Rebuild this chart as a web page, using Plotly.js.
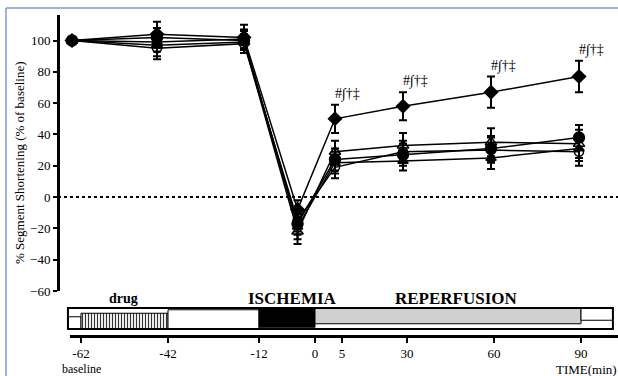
<!DOCTYPE html>
<html>
<head>
<meta charset="utf-8">
<script src="https://cdn.plot.ly/plotly-3.0.1.min.js"></script>
<style>html,body{margin:0;padding:0;background:#fff}#chart{width:618px;height:376px}</style>
</head>
<body>
<div id="chart"></div>
<script>
// ---- data ----
const sampleTimes = [-62, -42, -12, -2, 5, 30, 60, 90];   // min (ischemia sample at -2)
const tickTimes   = [-62, -42, -12, 0, 5, 30, 60, 90];
const tickLabels  = ['-62', '-42', '-12', '0', '5', '30', '60', '90'];

const diamondVals   = [100, 104, 102, -8, 50, 58, 67, 77];
const diamondErr    = [2, 8, 8, 6, 9, 9, 10, 10];
const circleVals    = [100, 102, 100, -17, 24, 27, 31, 38];
const circleErr     = [2, 6, 6, 7, 7, 7, 8, 8];
const triOpenVals   = [100, 97, 99, -22, 29, 33, 35, 34];
const triOpenErr    = [2, 7, 7, 8, 7, 8, 9, 9];
const circOpenVals  = [100, 95, 98, -15, 19, 29, 30, 29];
const circOpenErr   = [2, 7, 6, 7, 7, 7, 8, 9];
const triFillVals   = [100, 99, 101, -19, 22, 23, 25, 31];
const triFillErr    = [2, 6, 6, 8, 7, 6, 7, 8];

const sigLabel = '#∫†‡';
const sigTimes = [5, 30, 60, 90];

// protocol phases (min)
const phaseStart = [-65, -62, -42, -12, 0, 90];
const phaseEnd   = [-62, -42, -12, 0, 90, 101];
const phaseKind  = ['none', 'drug', 'none', 'ischemia', 'reperfusion', 'none'];

// ---- broken time scales (time -> axis units) ----
const topKnotT = [-62, -42, -12, 5, 30, 60, 90];
const topKnotU = [72, 157, 244, 335, 403, 491, 579];
const botKnotT = [-62, -42, -12, 0, 5, 30, 60, 90];
const botKnotU = [81, 168, 259, 315, 342, 407, 494, 581];
function scale(t, kt, ku) {
  let i = 0;
  if (t <= kt[0]) i = 0;
  else if (t >= kt[kt.length - 1]) i = kt.length - 2;
  else { while (t > kt[i + 1]) i++; }
  return ku[i] + (t - kt[i]) * (ku[i + 1] - ku[i]) / (kt[i + 1] - kt[i]);
}
const topX = t => scale(t, topKnotT, topKnotU);
const botX = t => scale(t, botKnotT, botKnotU);

const W = 618, H = 376;
const px = x => x / W, py = y => 1 - y / H;
const serif = '"Liberation Serif", "Times New Roman", serif';

function series(vals, errs, symbol, size) {
  return {
    type: 'scatter', mode: 'lines+markers', xaxis: 'x', yaxis: 'y',
    x: sampleTimes.map(topX), y: vals,
    line: {color: '#000', width: 1.5},
    marker: {symbol: symbol, size: size, color: '#000', line: {color: '#000', width: 1.5}},
    error_y: {type: 'data', array: errs, visible: true, color: '#000', thickness: 2, width: 4},
    hoverinfo: 'skip', showlegend: false, cliponaxis: false
  };
}

const traces = [
  series(triFillVals, triFillErr, 'triangle-up', 9),
  series(circOpenVals, circOpenErr, 'circle-open', 9),
  series(triOpenVals, triOpenErr, 'triangle-up-open', 10),
  series(diamondVals, diamondErr, 'diamond', 10),
  series(circleVals, circleErr, 'circle', 11)
];

// protocol strip bars
phaseKind.forEach((k, i) => {
  const b = botX(phaseStart[i]);
  const e = botX(phaseEnd[i]);
  const m = {line: {color: '#000', width: 1}};
  if (k === 'drug') { m.color = 'white'; m.pattern = {shape: '|', size: 3, solidity: 0.4, fgcolor: '#333', bgcolor: 'white'}; }
  else if (k === 'ischemia') m.color = '#000';
  else if (k === 'reperfusion') m.color = '#d0d0d0';
  else m.color = 'white';
  traces.push({
    type: 'bar', orientation: 'h', xaxis: 'x2', yaxis: 'y2',
    y: [0.5], x: [e - b], base: [b], width: 1, marker: m,
    hoverinfo: 'skip', showlegend: false
  });
});
// dummy trace for the bottom time axis
traces.push({type: 'scatter', mode: 'markers', xaxis: 'x3', yaxis: 'y2',
  x: tickTimes.map(botX), y: tickTimes.map(() => 0.5),
  marker: {opacity: 0}, hoverinfo: 'skip', showlegend: false});

function lab(text, x, y, size, extra) {
  return Object.assign({text: text, xref: 'paper', yref: 'paper', x: px(x), y: py(y),
    xanchor: 'center', yanchor: 'middle', showarrow: false,
    font: {family: serif, size: size, color: '#000'}}, extra || {});
}
const annotations = [
  lab('% Segment Shortening (% of baseline)', 19, 163, 13, {textangle: -90}),
  lab('baseline', 81, 369, 12),
  lab('TIME(min)', 619, 369, 13, {xanchor: 'right'}),
  lab('<b>drug</b>', 123, 298, 14),
  lab('<b>ISCHEMIA</b>', 292, 298, 17),
  lab('<b>REPERFUSION</b>', 456, 298, 17)
];
sigTimes.forEach(t => {
  const i = sampleTimes.indexOf(t);
  annotations.push({text: sigLabel, xref: 'x', yref: 'y', x: topX(t), y: diamondVals[i] + diamondErr[i],
    xanchor: 'left', yanchor: 'bottom', xshift: -2, yshift: 1, showarrow: false,
    font: {family: serif, size: 14, color: '#000'}});
});

const layout = {
  width: W, height: H, margin: {l: 0, r: 0, t: 0, b: 0},
  paper_bgcolor: '#fff', plot_bgcolor: 'rgba(0,0,0,0)', showlegend: false,
  font: {family: serif, color: '#000'},
  xaxis: {domain: [0, 1], range: [0, W], visible: false, fixedrange: true},
  yaxis: {domain: [py(291), py(15)], range: [-60, 116.3], anchor: 'free', position: px(58),
    showline: true, linecolor: '#000', linewidth: 2.5, ticks: 'outside', ticklen: 4, tickwidth: 2,
    tickcolor: '#000', tickvals: [-60, -40, -20, 0, 20, 40, 60, 80, 100], showgrid: false, zeroline: false,
    tickfont: {family: serif, size: 13, color: '#000'}},
  xaxis2: {domain: [0, 1], range: [0, W], anchor: 'y2', visible: false, fixedrange: true},
  yaxis2: {domain: [py(329), py(308)], range: [0, 1], visible: false, fixedrange: true},
  xaxis3: {domain: [px(70), 1], range: [70, W], anchor: 'free', position: py(336),
    showline: true, linecolor: '#000', linewidth: 2.5, ticks: 'outside', ticklen: 5, tickwidth: 2,
    tickcolor: '#000', tickvals: tickTimes.map(botX), ticktext: tickLabels, showgrid: false, zeroline: false,
    tickfont: {family: serif, size: 13, color: '#000'}},
  bargap: 0,
  shapes: [
    {type: 'line', xref: 'paper', yref: 'y', x0: px(58), x1: 1, y0: 0, y1: 0,
     line: {color: '#000', width: 2, dash: 'dot'}},
    {type: 'rect', xref: 'x2', yref: 'paper', x0: botX(phaseStart[0]), x1: botX(phaseEnd[phaseEnd.length - 1]),
     y0: py(329), y1: py(308), line: {color: '#000', width: 2}},
    {type: 'line', xref: 'paper', yref: 'paper', x0: px(6), x1: px(6), y0: 0, y1: py(8),
     line: {color: '#7b9dcc', width: 1.5}},
    {type: 'line', xref: 'paper', yref: 'paper', x0: px(6), x1: 1, y0: py(8), y1: py(8),
     line: {color: '#7b9dcc', width: 1.5}}
  ],
  annotations: annotations
};

Plotly.newPlot('chart', traces, layout, {staticPlot: true, displayModeBar: false});
</script>
</body>
</html>
